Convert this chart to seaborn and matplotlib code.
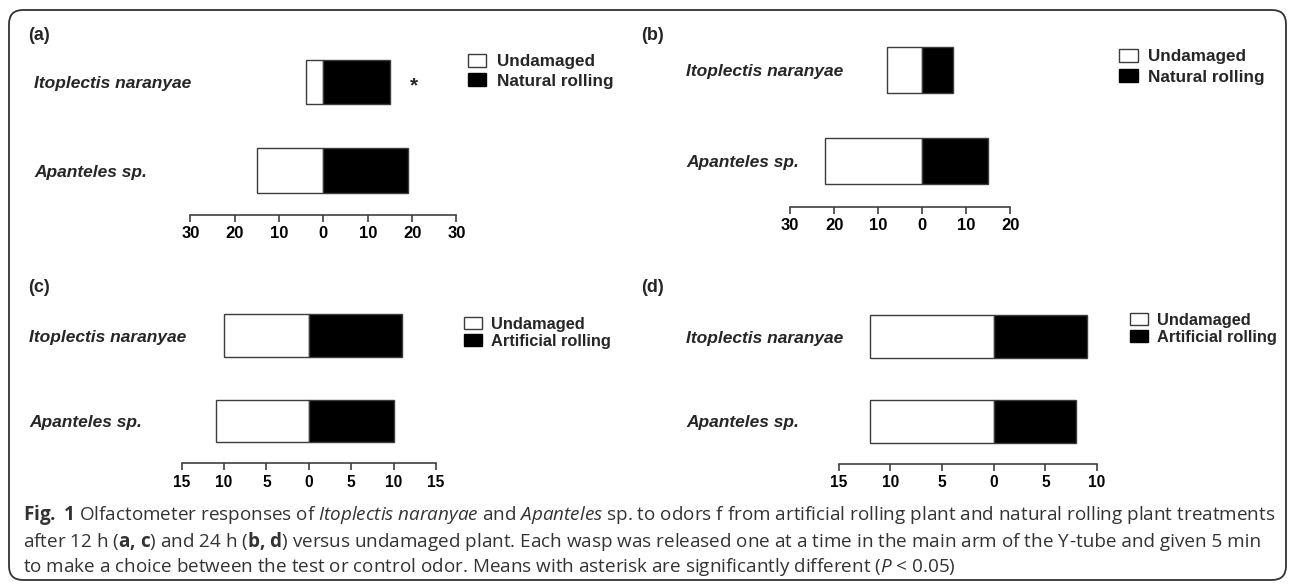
import matplotlib
matplotlib.use("Agg")
import numpy as np
import pandas as pd
import matplotlib.pyplot as plt
from matplotlib.patches import FancyBboxPatch, Patch
from matplotlib.transforms import IdentityTransform
import seaborn as sns

# data
species = ["Itoplectis naranyae", "Apanteles sp."]
undamaged_a = [4, 15]
natural_a = [15, 19]
undamaged_b = [8, 22]
natural_b = [7, 15]
undamaged_c = [10, 11]
artificial_c = [11, 10]
undamaged_d = [12, 12]
artificial_d = [9, 8]

xticks_a = [-30, -20, -10, 0, 10, 20, 30]
xticks_b = [-30, -20, -10, 0, 10, 20]
xticks_c = [-15, -10, -5, 0, 5, 10, 15]
xticks_d = [-15, -10, -5, 0, 5, 10]

W, H = 1290, 584
sns.set_theme(style="ticks")
plt.rcParams["font.family"] = ["Liberation Sans", "DejaVu Sans"]

# caption font: Open Sans (the condensed face here is bold only)
cap_font = "Open Sans"
plt.rcParams["mathtext.fontset"] = "custom"
plt.rcParams["mathtext.rm"] = cap_font
plt.rcParams["mathtext.it"] = cap_font + ":italic"
plt.rcParams["mathtext.bf"] = cap_font + ":bold"

fig = plt.figure(figsize=(W / 100, H / 100), dpi=100)
edge = "#3c3c3c"


def px_axes(left, right, top, bottom):
    return fig.add_axes([left / W, 1 - bottom / H, (right - left) / W, (bottom - top) / H])


def panel(box, und, treat, treat_name, xticks, label_pad, leg_xy, leg_size, leg_space, tick_size):
    ax = px_axes(*box)
    df = pd.DataFrame({
        "species": species * 2,
        "side": ["Undamaged"] * 2 + [treat_name] * 2,
        "count": [-v for v in und] + list(treat),
    })
    sns.barplot(data=df, x="count", y="species", hue="side", dodge=False,
                palette={"Undamaged": "white", treat_name: "black"},
                edgecolor=edge, linewidth=1, width=0.5, errorbar=None,
                orient="h", ax=ax)
    if ax.get_legend() is not None:
        ax.get_legend().remove()
    ax.set_xlim(xticks[0], xticks[-1])
    ax.set_ylim(1.5, -0.5)
    ax.set_xlabel("")
    ax.set_ylabel("")
    ax.set_xticks(xticks, labels=[str(abs(v)) for v in xticks],
                  fontweight="bold", fontsize=tick_size)
    ax.set_yticks([0, 1], labels=species, fontweight="bold", fontstyle="italic",
                  fontsize=12.5, ha="left")
    ax.tick_params(axis="y", length=0, pad=label_pad * 0.72)
    ax.tick_params(axis="x", direction="out", length=5, width=1.2, color="#404040",
                   pad=3, labelcolor="black")
    for s in ["top", "right", "left"]:
        ax.spines[s].set_visible(False)
    ax.spines["bottom"].set_color("#404040")
    ax.spines["bottom"].set_linewidth(1.2)
    ax.set_facecolor("none")

    handles = [Patch(facecolor="white", edgecolor=edge, linewidth=1),
               Patch(facecolor="black", edgecolor="black", linewidth=1)]
    fig.legend(handles, ["Undamaged", treat_name], loc="upper left",
               bbox_to_anchor=(leg_xy[0] / W, 1 - leg_xy[1] / H),
               frameon=False, prop={"weight": "bold", "size": leg_size},
               handlelength=1.1, handleheight=0.75, handletextpad=0.6,
               labelspacing=leg_space, borderpad=0, borderaxespad=0)
    return ax


ax_a = panel((190.4, 456.4, 37.4, 214.9), undamaged_a, natural_a, "Natural rolling",
             xticks_a, 156.4, (467.6, 54), 12.3, 0.25, 12)
ax_b = panel((790.3, 1010.3, 24.0, 206.7), undamaged_b, natural_b, "Natural rolling",
             xticks_b, 104.3, (1119, 49), 12.3, 0.3, 12)
ax_c = panel((181.7, 436.0, 293.1, 463.4), undamaged_c, artificial_c, "Artificial rolling",
             xticks_c, 152.7, (463.5, 317), 11.8, 0.1, 11.2)
ax_d = panel((838.5, 1097.0, 294.0, 464.0), undamaged_d, artificial_d, "Artificial rolling",
             xticks_d, 152.5, (1129.6, 313), 11.8, 0.1, 11.2)

# significance mark next to the Itoplectis bar in (a)
ax_a.text(natural_a[0] + 5.4, 0.05, "*", ha="center", va="center",
          fontsize=15, fontweight="bold")

for letter, x, y in [("(a)", 28, 35), ("(b)", 641, 36), ("(c)", 28, 288), ("(d)", 641, 288)]:
    fig.text(x / W, 1 - y / H, letter, fontsize=13, fontweight="bold", ha="left", va="center")

# rounded frame
frame = FancyBboxPatch((9, H - 580), 1277, 570, boxstyle="round,pad=0,rounding_size=14",
                       transform=IdentityTransform(), facecolor="none",
                       edgecolor="#333333", linewidth=1.3)
fig.add_artist(frame)

# caption
line1 = (r"$\mathbf{Fig.}$ $\mathbf{1}$ Olfactometer responses of $\mathit{Itoplectis}$ $\mathit{naranyae}$ and "
         r"$\mathit{Apanteles}$ sp. to odors f from artificial rolling plant and natural rolling plant treatments")
line2a = (r"after 12 h ($\mathbf{a}$$\mathbf{,}$ $\mathbf{c}$) and 24 h ($\mathbf{b}$$\mathbf{,}$ $\mathbf{d}$) "
          r"versus undamaged plant. Each wasp was released one at a time in the main arm of the Y")
line2b = "-tube and given 5 min"
line3 = (r"to make a choice between the test or control odor. Means with asterisk are "
         r"significantly different ($\mathit{P}$ < 0.05)")

cap_color = "#333333"
cap_x = 23
centers = [513, 540, 565]
renderer = fig.canvas.get_renderer()
probe = fig.text(0, 0, line1, fontsize=12, family=cap_font)
w1 = probe.get_window_extent(renderer).width
probe.remove()
cap_size = 12 * 1247 / w1
base_off = 0.36 * cap_size * 100 / 72

fig.text(cap_x / W, 1 - (centers[0] + base_off) / H, line1, fontsize=cap_size,
         family=cap_font, color=cap_color, ha="left", va="baseline")
t2 = fig.text(cap_x / W, 1 - (centers[1] + base_off) / H, line2a, fontsize=cap_size,
              family=cap_font, color=cap_color, ha="left", va="baseline")
x2 = t2.get_window_extent(renderer).x1
fig.text(x2 / W, 1 - (centers[1] + base_off) / H, line2b, fontsize=cap_size,
         family=cap_font, color=cap_color, ha="left", va="baseline")
fig.text(cap_x / W, 1 - (centers[2] + base_off) / H, line3, fontsize=cap_size,
         family=cap_font, color=cap_color, ha="left", va="baseline")

fig.savefig("out.png", dpi=100, facecolor="white")
